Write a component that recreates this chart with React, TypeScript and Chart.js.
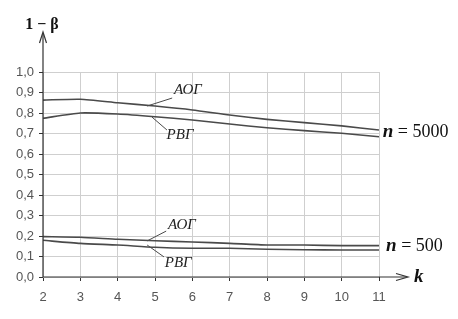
import React, { useEffect, useRef } from "react";
import { Chart, registerables } from "chart.js";

Chart.register(...registerables);

const kValues = [2, 3, 4, 5, 6, 7, 8, 9, 10, 11];
const aogN5000 = [0.863, 0.867, 0.85, 0.834, 0.815, 0.79, 0.769, 0.753, 0.737, 0.717];
const rvgN5000 = [0.774, 0.8, 0.795, 0.782, 0.766, 0.746, 0.728, 0.714, 0.701, 0.684];
const aogN500 = [0.197, 0.194, 0.184, 0.177, 0.171, 0.164, 0.156, 0.156, 0.153, 0.153];
const rvgN500 = [0.179, 0.164, 0.156, 0.145, 0.14, 0.14, 0.135, 0.133, 0.132, 0.132];

const yTitle = "1 − β";
const xTitle = "k";
const seriesLabels = ["АОГ", "РВГ"];
const groupLabels = ["5000", "500"];

const LINE = "#4a4a4a";
const GRID = "#cfcfcf";
const AXIS = "#333333";

const App = () => {
  const ref = useRef<HTMLCanvasElement | null>(null);
  useEffect(() => {
    if (!ref.current) return;
    const mk = (arr: number[]) => kValues.map((k, i) => ({ x: k, y: arr[i] }));
    const ds = (arr: number[]) => ({
      data: mk(arr),
      borderColor: LINE,
      borderWidth: 1.6,
      pointRadius: 0,
      fill: false,
      tension: 0.2,
    });
    const overlay = {
      id: "overlay",
      afterDraw(chart: any) {
        const ctx = chart.ctx;
        const xs = chart.scales.x;
        const ys = chart.scales.y;
        const X = (v: number) => xs.getPixelForValue(v);
        const Y = (v: number) => ys.getPixelForValue(v);
        const ca = chart.chartArea;
        ctx.save();
        // axes
        ctx.strokeStyle = AXIS;
        ctx.lineWidth = 1.2;
        ctx.beginPath();
        ctx.moveTo(ca.left, ca.bottom);
        ctx.lineTo(ca.left, 33);
        ctx.moveTo(ca.left, ca.bottom);
        ctx.lineTo(407, ca.bottom);
        ctx.stroke();
        // arrowheads
        ctx.beginPath();
        ctx.moveTo(ca.left - 3.5, 43);
        ctx.lineTo(ca.left, 32);
        ctx.lineTo(ca.left + 3.5, 43);
        ctx.moveTo(396, ca.bottom - 3.5);
        ctx.lineTo(408, ca.bottom);
        ctx.lineTo(396, ca.bottom + 3.5);
        ctx.stroke();
        // titles
        ctx.fillStyle = "#111";
        ctx.textBaseline = "middle";
        ctx.textAlign = "center";
        ctx.font = "bold 16px 'Liberation Serif'";
        ctx.fillText(yTitle, 42, 25);
        ctx.textAlign = "left";
        ctx.font = "bold italic 19px 'Liberation Serif'";
        ctx.fillText(xTitle, 414, ca.bottom);
        // leaders
        ctx.strokeStyle = LINE;
        ctx.lineWidth = 1;
        const leader = (x1: number, y1: number, x2: number, y2: number) => {
          ctx.beginPath();
          ctx.moveTo(X(x1), Y(y1));
          ctx.lineTo(X(x2), Y(y2));
          ctx.stroke();
        };
        leader(4.79, 0.834, 5.46, 0.873);
        leader(4.92, 0.78, 5.32, 0.717);
        leader(4.79, 0.176, 5.3, 0.224);
        leader(4.79, 0.156, 5.24, 0.098);
        ctx.fillStyle = "#222";
        ctx.textAlign = "center";
        ctx.font = "italic 15px 'Liberation Serif'";
        ctx.fillText(seriesLabels[0], X(5.88), Y(0.912));
        ctx.fillText(seriesLabels[1], X(5.67), Y(0.693));
        ctx.fillText(seriesLabels[0], X(5.72), Y(0.254));
        ctx.fillText(seriesLabels[1], X(5.62), Y(0.068));
        // n labels
        const nLabel = (x: number, y: number, txt: string) => {
          ctx.textAlign = "left";
          ctx.fillStyle = "#111";
          ctx.font = "bold italic 19px 'Liberation Serif'";
          const px = X(x);
          const py = Y(y);
          ctx.fillText("n", px, py);
          const w = ctx.measureText("n").width;
          ctx.font = "18px 'Liberation Serif'";
          ctx.fillText(" = " + txt, px + w, py);
        };
        nLabel(11.1, 0.707, groupLabels[0]);
        nLabel(11.19, 0.151, groupLabels[1]);
        ctx.restore();
      },
    };
    const chart = new Chart(ref.current, {
      type: "line",
      data: {
        datasets: [ds(aogN5000), ds(rvgN5000), ds(aogN500), ds(rvgN500)],
      },
      options: {
        animation: false,
        responsive: true,
        maintainAspectRatio: false,
        layout: { padding: { left: 0, top: 72, right: 79, bottom: 0 } },
        plugins: { legend: { display: false }, tooltip: { enabled: false } },
        scales: {
          x: {
            type: "linear",
            min: 2,
            max: 11,
            afterFit: (s: any) => {
              s.height = 42;
            },
            ticks: {
              stepSize: 1,
              color: "#555",
              font: { family: "'Liberation Sans'", size: 13 },
              padding: 9,
            },
            grid: { color: GRID, tickColor: AXIS, tickLength: 4, lineWidth: 1 },
            border: { display: false },
          },
          y: {
            min: 0,
            max: 1,
            afterFit: (s: any) => {
              s.width = 43;
            },
            ticks: {
              stepSize: 0.1,
              color: "#555",
              font: { family: "'Liberation Sans'", size: 13 },
              padding: 5,
              callback: (v: any) => (Math.round(Number(v) * 10) / 10).toFixed(1).replace(".", ","),
            },
            grid: { color: GRID, tickColor: AXIS, tickLength: 4, lineWidth: 1 },
            border: { display: false },
          },
        },
      },
      plugins: [overlay],
    } as any);
    return () => chart.destroy();
  }, []);
  return (
    <div style={{ position: "absolute", left: 0, top: 0, width: 458, height: 319, background: "#fff" }}>
      <canvas ref={ref} />
    </div>
  );
};

export default App;
